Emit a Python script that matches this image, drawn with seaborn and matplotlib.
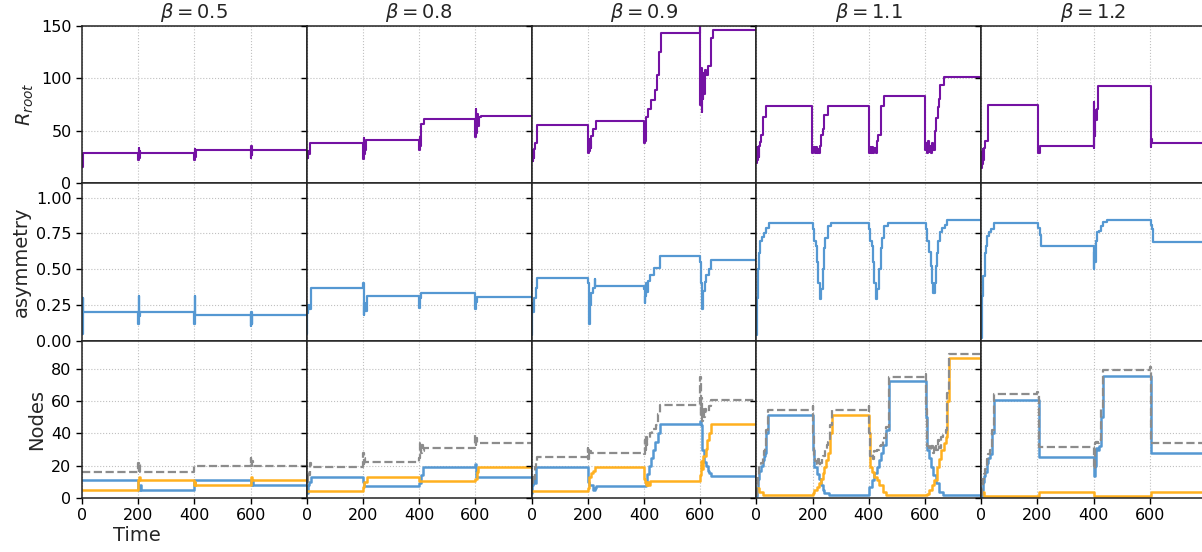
import matplotlib
matplotlib.use('Agg')
import matplotlib.pyplot as plt
import seaborn as sns

# Data: (time, value) breakpoints of step-wise series, one panel per beta
betas = ['0.5', '0.8', '0.9', '1.1', '1.2']
t_ticks = [0, 200, 400, 600]

root_05 = [(0, 16), (3, 22), (5, 29), (200, 22), (202, 34), (204, 24), (206, 31), (208, 29),
           (400, 22), (402, 33), (404, 25), (406, 32), (600, 24), (602, 36), (604, 27), (606, 32), (800, 32)]
root_08 = [(0, 24), (2, 31), (4, 24), (6, 31), (8, 28), (12, 38), (200, 23), (202, 43), (204, 28),
           (206, 37), (208, 32), (212, 41), (400, 31.5), (402, 44), (404, 36), (408, 57), (417, 61.3),
           (600, 44), (602, 71), (604, 48), (606, 66), (608, 55), (612, 63), (619, 64.3), (800, 64.3)]
root_09 = [(0, 22), (2, 32), (4, 21), (6, 30), (8, 24), (10, 33), (12, 38), (21, 56), (200, 29),
           (203, 42), (205, 31), (207, 40), (210, 34), (213, 45), (220, 52), (228, 59.5), (400, 38),
           (402, 52), (404, 40), (406, 50), (408, 63), (416, 71), (425, 79), (441, 89), (448, 103),
           (452, 125), (462, 143), (600, 152), (601, 75), (603, 110), (605, 68), (607, 100), (609, 80),
           (611, 105), (614, 85), (618, 108), (622, 103), (628, 112), (638, 139), (645, 146), (800, 146)]
root_11 = [(0, 19), (2, 35), (4, 22), (6, 33), (8, 25), (10, 36), (14, 39), (18, 46), (22, 63), (34, 73.6),
           (199, 29), (203, 35), (207, 29), (211, 35), (215, 29), (219, 33), (224, 29), (228, 36), (231, 46),
           (236, 52), (242, 65), (254, 74), (400, 29), (404, 35), (408, 29), (412, 35), (416, 29), (420, 34),
           (424, 29), (429, 40), (434, 46), (443, 74), (455, 83), (600, 32), (603, 38), (606, 29), (610, 40),
           (614, 30), (618, 36), (622, 29), (626, 38), (630, 32), (634, 50), (640, 62), (645, 73), (650, 80),
           (654, 94), (666, 101), (800, 101)]
root_12 = [(0, 15), (2, 30), (4, 18), (6, 33), (8, 22), (10, 34), (14, 40), (24, 74.8), (201, 66),
           (204, 28.6), (208, 35.4), (400, 77.5), (401, 34), (402, 70), (404, 45), (406, 65), (409, 60),
           (411, 71), (414, 74), (417, 92.7), (603, 35), (606, 42), (609, 38), (800, 38)]

asym_05 = [(0, 0.05), (2, 0.30), (4, 0.20), (200, 0.12), (202, 0.31), (204, 0.17), (206, 0.20),
           (400, 0.12), (402, 0.31), (404, 0.177), (600, 0.10), (602, 0.20), (604, 0.12), (606, 0.177), (800, 0.177)]
asym_08 = [(0, 0.05), (2, 0.19), (4, 0.25), (8, 0.22), (14, 0.366), (200, 0.405), (202, 0.18), (205, 0.26),
           (208, 0.21), (213, 0.31), (400, 0.226), (403, 0.30), (406, 0.335), (600, 0.22), (603, 0.27),
           (607, 0.303), (800, 0.303)]
asym_09 = [(0, 0.04), (3, 0.26), (6, 0.20), (9, 0.30), (14, 0.37), (19, 0.435), (201, 0.40), (203, 0.30),
           (205, 0.12), (208, 0.25), (212, 0.33), (220, 0.37), (224, 0.43), (227, 0.384), (400, 0.36),
           (402, 0.26), (405, 0.31), (408, 0.40), (411, 0.34), (414, 0.42), (420, 0.46), (437, 0.505),
           (457, 0.59), (601, 0.55), (603, 0.40), (606, 0.22), (610, 0.35), (616, 0.41), (621, 0.46),
           (630, 0.50), (639, 0.563), (800, 0.563)]
asym_11 = [(0, 0.04), (2, 0.30), (5, 0.50), (8, 0.61), (13, 0.70), (19, 0.727), (28, 0.75), (36, 0.79),
           (46, 0.824), (201, 0.78), (205, 0.70), (212, 0.66), (216, 0.55), (220, 0.40), (226, 0.294),
           (231, 0.36), (236, 0.50), (242, 0.65), (246, 0.72), (254, 0.80), (265, 0.824), (402, 0.78),
           (406, 0.70), (412, 0.66), (416, 0.55), (420, 0.40), (426, 0.294), (431, 0.36), (436, 0.50),
           (443, 0.65), (447, 0.72), (455, 0.80), (467, 0.824), (603, 0.78), (608, 0.70), (615, 0.62),
           (620, 0.52), (625, 0.40), (629, 0.33), (634, 0.40), (638, 0.52), (642, 0.61), (648, 0.70),
           (655, 0.76), (662, 0.79), (670, 0.81), (680, 0.842), (800, 0.842)]
asym_12 = [(0, 0.02), (2, 0.044), (4, 0.31), (8, 0.45), (12, 0.61), (16, 0.66), (20, 0.73), (28, 0.757),
           (36, 0.78), (44, 0.826), (204, 0.786), (208, 0.74), (212, 0.663), (401, 0.50), (403, 0.62),
           (406, 0.55), (408, 0.70), (411, 0.757), (419, 0.77), (427, 0.80), (435, 0.83), (447, 0.843),
           (604, 0.81), (607, 0.78), (613, 0.688), (800, 0.688)]

blue_05 = [(0, 11), (200, 5), (206, 8), (210, 5), (400, 11), (600, 8), (604, 11), (607, 8), (800, 8)]
blue_08 = [(0, 3), (3, 8), (8, 10), (14, 13.2), (200, 10), (203, 7.4), (400, 9), (406, 14), (414, 19.4),
           (600, 21), (603, 13.2), (800, 13.2)]
blue_09 = [(0, 3), (2, 8), (6, 12), (10, 9), (14, 19.4), (201, 10), (204, 8), (218, 5), (224, 6), (230, 7.6),
           (406, 10), (412, 15), (418, 20), (425, 25), (431, 30), (440, 35), (449, 40), (458, 45.8), (600, 48),
           (603, 45), (606, 30), (612, 22.5), (621, 20), (627, 17), (633, 15.3), (638, 13.6), (800, 13.6)]
blue_11 = [(0, 1), (3, 6), (7, 12), (11, 17), (16, 20), (22, 23.5), (28, 26), (31, 28), (35, 40), (43, 51.5),
           (202, 30), (206, 19.4), (215, 15), (224, 12), (230, 8), (236, 5), (242, 3), (260, 1.9), (402, 7),
           (410, 11), (420, 15.3), (428, 19), (437, 23.5), (445, 28), (452, 33), (461, 42), (473, 72.4),
           (604, 50), (607, 29.7), (614, 25), (621, 19.4), (630, 14), (639, 9), (651, 3.9), (663, 1.9), (800, 1.9)]
blue_12 = [(0, 0), (3, 5), (6, 10), (10, 13.7), (15, 16), (20, 22), (24, 24.7), (32, 27), (38, 40), (44, 61),
           (206, 25.2), (401, 13.7), (404, 20), (408, 31.3), (414, 30), (420, 32.5), (428, 50), (435, 75.5),
           (604, 28), (800, 28)]

orange_05 = [(0, 5), (200, 11), (203, 13), (206, 11), (400, 8), (402, 10), (404, 8), (600, 11), (602, 13),
             (605, 11), (800, 11)]
orange_08 = [(0, 4.5), (200, 7), (204, 10), (215, 13.2), (400, 10.3), (600, 12), (606, 16), (609, 19.4), (800, 19.4)]
orange_09 = [(0, 4.5), (201, 6), (203, 10), (206, 13), (212, 15.3), (218, 17), (224, 19.4), (400, 12), (402, 10),
             (406, 8), (412, 10), (416, 8), (420, 10.5), (600, 14), (603, 22.7), (606, 18), (610, 26), (619, 30.6),
             (625, 36), (632, 40), (639, 45.8), (800, 45.8)]
orange_11 = [(0, 6), (10, 4), (22, 1.9), (203, 3), (206, 5), (215, 7), (224, 9), (230, 12), (236, 15.3), (242, 19),
             (248, 23.5), (256, 27.7), (262, 40), (268, 51.4), (401, 40), (405, 19.4), (412, 16), (420, 13.2),
             (428, 11), (437, 8), (450, 4), (461, 1.9), (608, 2.5), (615, 5), (625, 8), (633, 11.1), (642, 19.4),
             (650, 24), (657, 29.7), (666, 34), (674, 38), (680, 60), (686, 86.5), (800, 86.5)]
orange_12 = [(0, 3.8), (10, 1.1), (205, 3.8), (402, 1.1), (605, 3.8), (800, 3.8)]

gray_05 = [(0, 16), (200, 22), (202, 17), (204, 21), (207, 16), (400, 20), (600, 25), (602, 20), (604, 23),
           (607, 20), (800, 20)]
gray_08 = [(0, 10), (4, 16), (8, 14), (11, 22), (14, 19.4), (200, 27.7), (202, 21), (204, 25), (207, 22.1),
           (400, 25), (403, 34.3), (406, 28), (409, 33), (412, 29), (416, 31.2), (600, 39), (602, 33), (604, 37),
           (607, 34.3), (800, 34.3)]
gray_09 = [(0, 9), (4, 14), (8, 12), (12, 19), (16, 22), (19, 25.5), (200, 31), (202, 24), (204, 30), (206, 26),
           (209, 29), (212, 28), (400, 27), (402, 36), (404, 30), (406, 38), (409, 33), (412, 37), (420, 40),
           (430, 43), (443, 45), (450, 52), (457, 57.6), (600, 75), (602, 50), (604, 62), (606, 48), (609, 56),
           (612, 50), (616, 55), (622, 53), (630, 57), (639, 61), (800, 61)]
gray_11 = [(0, 2), (3, 8), (7, 14), (11, 19), (16, 22), (22, 26), (28, 29), (31, 31), (35, 42), (43, 54.5),
           (200, 57), (202, 40), (206, 26), (210, 23), (214, 21), (218, 24), (222, 20), (226, 22), (232, 24),
           (238, 26), (244, 30), (250, 33), (256, 35), (262, 45), (268, 54.5), (400, 57), (402, 40), (405, 26),
           (410, 27), (415, 24), (420, 29), (428, 30), (437, 32), (445, 33), (452, 37), (461, 44), (473, 75),
           (600, 77), (603, 55), (607, 32), (614, 30), (621, 32), (627, 28), (633, 33), (639, 30), (645, 36),
           (651, 31), (657, 38), (665, 40), (674, 42), (680, 65), (686, 89.5), (800, 89.5)]
gray_12 = [(0, 2), (3, 6), (6, 12), (10, 15), (15, 18), (20, 24), (24, 27), (32, 30), (38, 42), (44, 64.5),
           (200, 66), (202, 64), (206, 31.5), (400, 31), (401, 18), (404, 34), (408, 35), (414, 34), (420, 36),
           (428, 55), (435, 79.5), (600, 81), (603, 62), (606, 34.2), (800, 34.2)]

root_all = [root_05, root_08, root_09, root_11, root_12]
asym_all = [asym_05, asym_08, asym_09, asym_11, asym_12]
blue_all = [blue_05, blue_08, blue_09, blue_11, blue_12]
orange_all = [orange_05, orange_08, orange_09, orange_11, orange_12]
gray_all = [gray_05, gray_08, gray_09, gray_11, gray_12]

PURPLE = '#7412a3'
BLUE = '#5598d2'
ORANGE = '#ffb01f'
GRAY = '#8c8c8c'


def step(ax, pts, color, **kw):
    t = [p[0] for p in pts]
    v = [p[1] for p in pts]
    sns.lineplot(x=t, y=v, ax=ax, color=color, drawstyle='steps-post',
                 estimator=None, sort=False, **kw)


sns.set_theme(style='ticks')
plt.rcParams['font.family'] = ['DejaVu Sans']
plt.rcParams['axes.edgecolor'] = '#222222'
plt.rcParams['axes.linewidth'] = 1.1

fig, axes = plt.subplots(3, 5, figsize=(12.02, 5.52), dpi=100, sharex=True, sharey='row')
fig.subplots_adjust(left=0.0682, right=1.0033, top=0.9529, bottom=0.0978, wspace=0, hspace=0)

for j in range(5):
    a0, a1, a2 = axes[0, j], axes[1, j], axes[2, j]
    step(a0, root_all[j], PURPLE, linewidth=1.5)
    step(a1, asym_all[j], BLUE, linewidth=1.6)
    step(a2, blue_all[j], BLUE, linewidth=1.8)
    step(a2, orange_all[j], ORANGE, linewidth=1.8)
    step(a2, gray_all[j], GRAY, linewidth=1.6, linestyle='--')
    a0.set_title(r'$\beta = %s$' % betas[j], fontsize=14)

for ax in axes.flat:
    ax.grid(True, linestyle=':', color='#c0c0c0', linewidth=0.8)
    ax.set_xlim(0, 800)
    ax.set_xticks(t_ticks)
    ax.set_xlabel('')
    ax.set_ylabel('')
    ax.tick_params(labelsize=11.5, colors='black', length=4, width=1.0)

for ax in axes[:2].flat:
    ax.tick_params(axis='x', length=0)

axes[0, 0].set_ylim(0, 150)
axes[0, 0].set_yticks([0, 50, 100, 150])
axes[1, 0].set_ylim(0, 1.1)
axes[1, 0].set_yticks([0, 0.25, 0.5, 0.75, 1.0])
axes[1, 0].set_yticklabels(['0.00', '0.25', '0.50', '0.75', '1.00'])
axes[2, 0].set_ylim(0, 97.5)
axes[2, 0].set_yticks([0, 20, 40, 60, 80])

axes[0, 0].set_ylabel(r'$R_{root}$', fontsize=14)
axes[1, 0].set_ylabel('asymmetry', fontsize=14)
axes[2, 0].set_ylabel('Nodes', fontsize=14)
axes[2, 0].set_xlabel('Time', fontsize=14)
axes[2, 0].xaxis.set_label_coords(0.244, -0.18)

plt.savefig('out.png', dpi=100)
